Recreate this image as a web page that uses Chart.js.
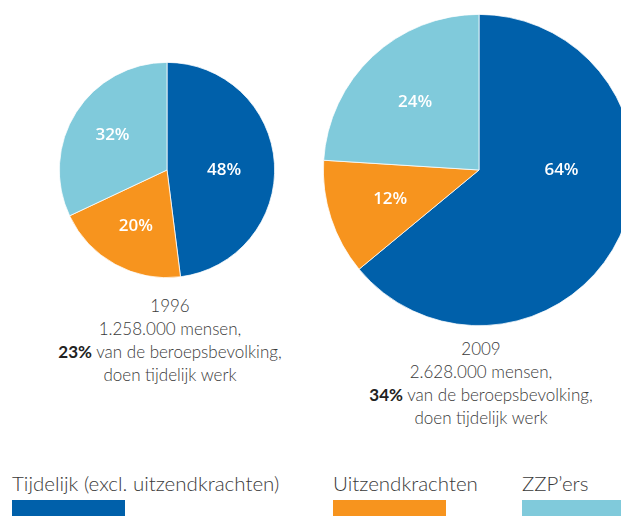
<!DOCTYPE html>
<html><head><meta charset="utf-8">
<script src="https://cdn.jsdelivr.net/npm/chart.js@4"></script>
<style>
html,body{margin:0;padding:0;width:621px;height:532px;overflow:hidden;background:#fff;font-family:Lato,"Open Sans",sans-serif;}
.pie{position:absolute;}
#p1{left:59px;top:62px;width:216px;height:216px;}
#p2{left:323px;top:14px;width:312px;height:312px;}
.cap{position:absolute;text-align:center;color:#3a3a3a;font-size:17px;line-height:23px;font-weight:300;white-space:nowrap;transform:translateX(-50%);}
.cap b{font-weight:700;color:#222;}
#c1{left:170px;top:294px;}
#c2{left:481px;top:337px;}
.leg{position:absolute;top:471px;color:#3a3a3a;font-size:20.5px;line-height:24px;font-weight:300;white-space:nowrap;}
.leg .bar{width:113px;height:16px;margin-top:5px;}
</style></head>
<body>
<div class="pie" id="p1"><canvas id="cv1"></canvas></div>
<div class="pie" id="p2"><canvas id="cv2"></canvas></div>
<div class="cap" id="c1"></div>
<div class="cap" id="c2"></div>
<div id="legend"></div>
<script>
const categories = ['Tijdelijk (excl. uitzendkrachten)', 'Uitzendkrachten', 'ZZP\u2019ers'];
const years = ['1996', '2009'];
const values1996 = [48, 20, 32];
const values2009 = [64, 12, 24];
const totalPeople = ['1.258.000', '2.628.000'];
const workforceShare = ['23%', '34%'];
const colors = ['#0060AA', '#F7941E', '#80CADB'];
const legendLeft = [12, 333, 522];

const labelPlugin = {
  id: 'sliceLabels',
  afterDatasetsDraw(chart) {
    const ctx = chart.ctx;
    const meta = chart.getDatasetMeta(0);
    const data = chart.data.datasets[0].data;
    ctx.save();
    ctx.fillStyle = '#ffffff';
    ctx.font = '600 17px "Open Sans", Lato, sans-serif';
    ctx.textAlign = 'center';
    ctx.textBaseline = 'middle';
    meta.data.forEach((arc, i) => {
      const p = arc.getProps(['x', 'y', 'startAngle', 'endAngle', 'outerRadius'], true);
      let ang, frac;
      if (i === 0) { ang = 0; frac = 0.53; }
      else { ang = (p.startAngle + p.endAngle) / 2; frac = 0.6; }
      const r = p.outerRadius * frac;
      ctx.fillText(data[i] + '%', p.x + Math.cos(ang) * r, p.y + Math.sin(ang) * r);
    });
    ctx.restore();
  }
};

function makePie(id, values) {
  return new Chart(document.getElementById(id), {
    type: 'pie',
    data: {
      labels: categories,
      datasets: [{ data: values, backgroundColor: colors, borderColor: '#ffffff', borderWidth: 0.75 }]
    },
    options: {
      responsive: true,
      maintainAspectRatio: false,
      animation: false,
      layout: { padding: 0 },
      plugins: { legend: { display: false }, tooltip: { enabled: false } }
    },
    plugins: [labelPlugin]
  });
}
makePie('cv1', values1996);
makePie('cv2', values2009);

['c1', 'c2'].forEach((id, k) => {
  document.getElementById(id).innerHTML =
    years[k] + '<br>' + totalPeople[k] + ' mensen,<br><b>' + workforceShare[k] +
    '</b> van de beroepsbevolking,<br>doen tijdelijk werk';
});

const leg = document.getElementById('legend');
categories.forEach((c, i) => {
  const d = document.createElement('div');
  d.className = 'leg';
  d.style.left = legendLeft[i] + 'px';
  d.innerHTML = '<div>' + c + '</div><div class="bar" style="background:' + colors[i] + '"></div>';
  leg.appendChild(d);
});
</script>
</body></html>
